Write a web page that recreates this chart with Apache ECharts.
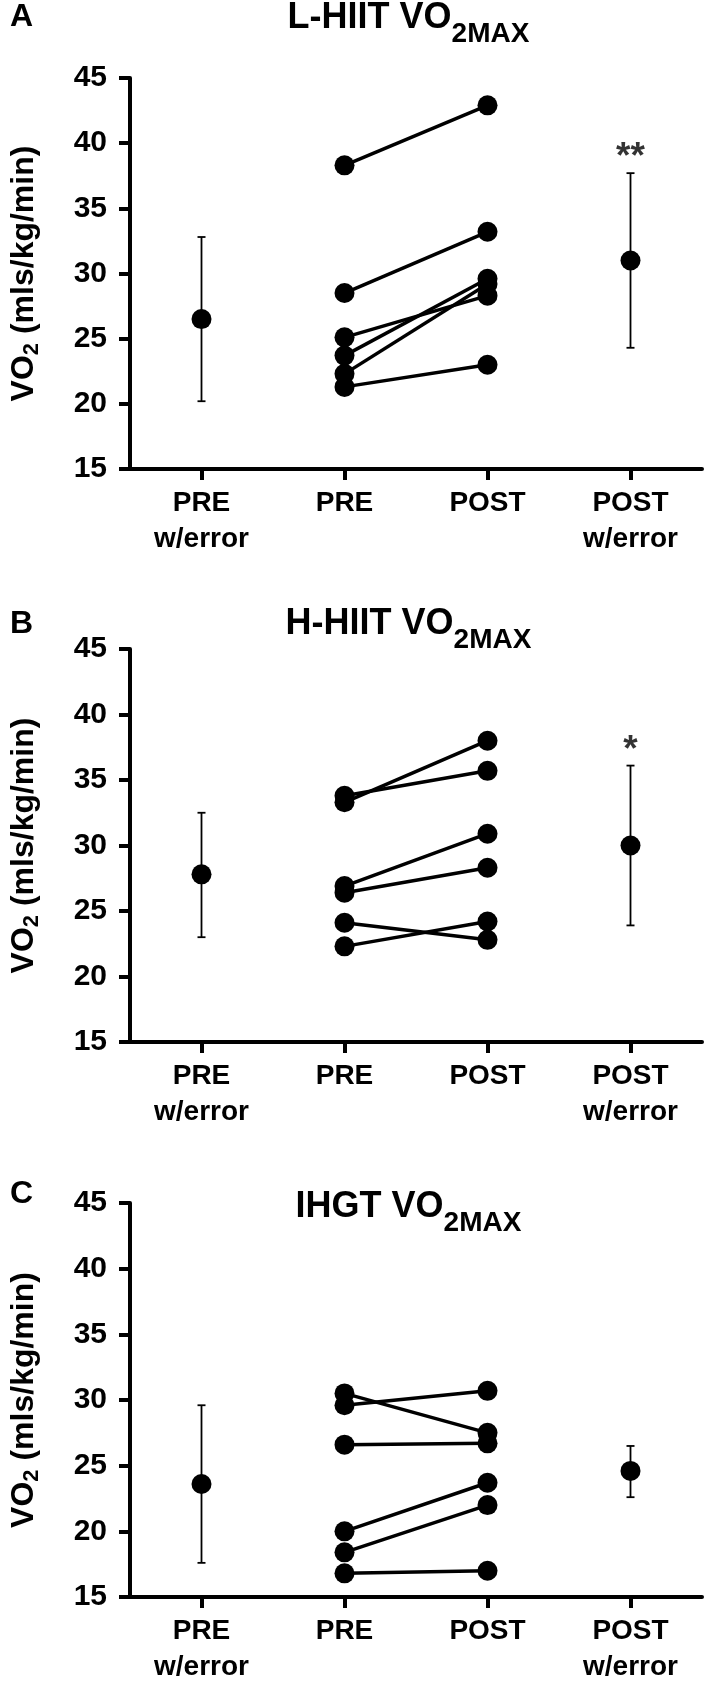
<!DOCTYPE html>
<html>
<head>
<meta charset="utf-8">
<script src="https://cdn.jsdelivr.net/npm/echarts@6/dist/echarts.min.js"></script>
<style>
html,body{margin:0;padding:0;background:#fff;}
#chart{width:709px;height:1692px;}
</style>
</head>
<body>
<div id="chart"></div>
<script>
// ---- data ----
const categories = ['PRE\nw/error', 'PRE', 'POST', 'POST\nw/error'];
const yTicks = { min: 15, max: 45, interval: 5 };

// Panel A: L-HIIT
const lhiitPre  = [38.3, 28.5, 25.1, 23.7, 22.3, 21.3];
const lhiitPost = [42.9, 33.2, 28.3, 29.6, 29.2, 23.0];
const lhiitMean = [26.5, 31.0];
const lhiitLow  = [20.2, 24.3];
const lhiitHigh = [32.8, 37.7];
const lhiitSig  = ['', '**'];
const lhiitSigY = [null, 38.9];

// Panel B: H-HIIT
const hhiitPre  = [33.3, 33.8, 26.9, 26.4, 24.1, 22.3];
const hhiitPost = [38.0, 35.7, 30.9, 28.3, 22.8, 24.2];
const hhiitMean = [27.8, 30.0];
const hhiitLow  = [23.0, 23.9];
const hhiitHigh = [32.5, 36.1];
const hhiitSig  = ['', '*'];
const hhiitSigY = [null, 37.2];

// Panel C: IHGT
const ihgtPre  = [30.5, 29.6, 26.6, 20.0, 18.4, 16.8];
const ihgtPost = [27.5, 30.7, 26.7, 23.7, 22.0, 17.0];
const ihgtMean = [23.6, 24.6];
const ihgtLow  = [17.6, 22.6];
const ihgtHigh = [29.6, 26.5];

const panelTitles = ['L-HIIT VO', 'H-HIIT VO', 'IHGT VO'];
const panelSub = '2MAX';
const panelLetters = ['A', 'B', 'C'];
const yName = ['VO', '2', ' (mls/kg/min)'];

// ---- layout ----
const FONT = 'Liberation Sans, Arial, sans-serif';
const grids = [
  { left: 115, top: 78, width: 587, height: 391 },
  { left: 115, top: 649, width: 587, height: 393 },
  { left: 115, top: 1203, width: 587, height: 394 }
];
const titleTops = [0, 606, 1189];
const letterTops = [1, 608, 1178];

const panels = [
  { pre: lhiitPre, post: lhiitPost, mean: lhiitMean, low: lhiitLow, high: lhiitHigh, sig: lhiitSig, sigY: lhiitSigY },
  { pre: hhiitPre, post: hhiitPost, mean: hhiitMean, low: hhiitLow, high: hhiitHigh, sig: hhiitSig, sigY: hhiitSigY },
  { pre: ihgtPre, post: ihgtPost, mean: ihgtMean, low: ihgtLow, high: ihgtHigh, sig: null, sigY: null }
];

const xAxes = [], yAxes = [], series = [], graphics = [];
panels.forEach((p, k) => {
  xAxes.push({
    gridIndex: k, type: 'category', data: categories, boundaryGap: true,
    axisLine: { show: true, lineStyle: { color: '#000', width: 4 } },
    axisTick: { show: true, alignWithLabel: true, length: 11, lineStyle: { color: '#000', width: 4 } },
    axisLabel: { interval: 0, color: '#000', fontFamily: FONT, fontWeight: 'bold', fontSize: 28, lineHeight: 36, margin: 16 },
    splitLine: { show: false }
  });
  yAxes.push({
    gridIndex: k, type: 'value', min: yTicks.min, max: yTicks.max, interval: yTicks.interval,
    axisLine: { show: true, lineStyle: { color: '#000', width: 4 } },
    axisTick: { show: true, length: 11, lineStyle: { color: '#000', width: 4 } },
    axisLabel: { color: '#000', fontFamily: FONT, fontWeight: 'bold', fontSize: 30, margin: 23 },
    splitLine: { show: false },
    name: '{a|' + yName[0] + '}{b|' + yName[1] + '}{a|' + yName[2] + '}',
    nameLocation: 'middle', nameRotate: 90, nameGap: 86,
    nameTextStyle: {
      color: '#000',
      rich: {
        a: { fontFamily: FONT, fontWeight: 'bold', fontSize: 32, lineHeight: 36, verticalAlign: 'top', color: '#000' },
        b: { fontFamily: FONT, fontWeight: 'bold', fontSize: 22, lineHeight: 22, verticalAlign: 'top', padding: [13, 0, 0, 0], color: '#000' }
      }
    }
  });
  // subject lines
  p.pre.forEach((v, i) => {
    series.push({
      type: 'line', xAxisIndex: k, yAxisIndex: k,
      data: [[1, v], [2, p.post[i]]],
      symbol: 'circle', symbolSize: 20, showSymbol: true,
      lineStyle: { color: '#000', width: 3.5 },
      itemStyle: { color: '#000', opacity: 1 },
      animation: false, silent: true
    });
  });
  // error bars
  series.push({
    type: 'custom', xAxisIndex: k, yAxisIndex: k,
    data: [[0, p.low[0], p.high[0]], [3, p.low[1], p.high[1]]],
    renderItem: function (params, api) {
      const lo = api.coord([api.value(0), api.value(1)]);
      const hi = api.coord([api.value(0), api.value(2)]);
      const w = 4;
      const st = { stroke: '#000', lineWidth: 1.8 };
      return { type: 'group', children: [
        { type: 'line', shape: { x1: lo[0], y1: lo[1], x2: hi[0], y2: hi[1] }, style: st },
        { type: 'line', shape: { x1: lo[0] - w, y1: lo[1], x2: lo[0] + w, y2: lo[1] }, style: st },
        { type: 'line', shape: { x1: hi[0] - w, y1: hi[1], x2: hi[0] + w, y2: hi[1] }, style: st }
      ]};
    },
    animation: false, silent: true, z: 3
  });
  // means
  series.push({
    type: 'scatter', xAxisIndex: k, yAxisIndex: k,
    data: [[0, p.mean[0]], [3, p.mean[1]]],
    symbol: 'circle', symbolSize: 20, itemStyle: { color: '#000', opacity: 1 },
    animation: false, silent: true, z: 4
  });
  // significance
  if (p.sig) {
    const d = [];
    p.sig.forEach((s, j) => { if (s) d.push({ value: [j === 0 ? 0 : 3, p.sigY[j]], name: s }); });
    series.push({
      type: 'scatter', xAxisIndex: k, yAxisIndex: k, data: d, symbolSize: 1,
      itemStyle: { color: 'rgba(0,0,0,0)' },
      label: { show: true, position: 'inside', formatter: '{b}', color: '#000', fontFamily: FONT, fontWeight: 'bold', fontSize: 37 },
      animation: false, silent: true
    });
  }
  // titles
  const g = grids[k];
  graphics.push({
    type: 'text', x: g.left + g.width / 2, y: titleTops[k],
    style: {
      text: '{a|' + panelTitles[k] + '}{b|' + panelSub + '}',
      align: 'center', verticalAlign: 'top', fill: '#000',
      rich: {
        a: { fontFamily: FONT, fontWeight: 'bold', fontSize: 36, lineHeight: 40, verticalAlign: 'top', fill: '#000' },
        b: { fontFamily: FONT, fontWeight: 'bold', fontSize: 28, lineHeight: 28, verticalAlign: 'top', padding: [20, 0, 0, 0], fill: '#000' }
      }
    }
  });
  graphics.push({
    type: 'text', x: 10, y: letterTops[k],
    style: { text: panelLetters[k], fontFamily: FONT, fontWeight: 'bold', fontSize: 32, fill: '#000', verticalAlign: 'top' }
  });
});

const chart = echarts.init(document.getElementById('chart'), null, { renderer: 'canvas' });
chart.setOption({
  animation: false,
  backgroundColor: '#fff',
  grid: grids,
  xAxis: xAxes,
  yAxis: yAxes,
  series: series,
  graphic: graphics
});
</script>
</body>
</html>
